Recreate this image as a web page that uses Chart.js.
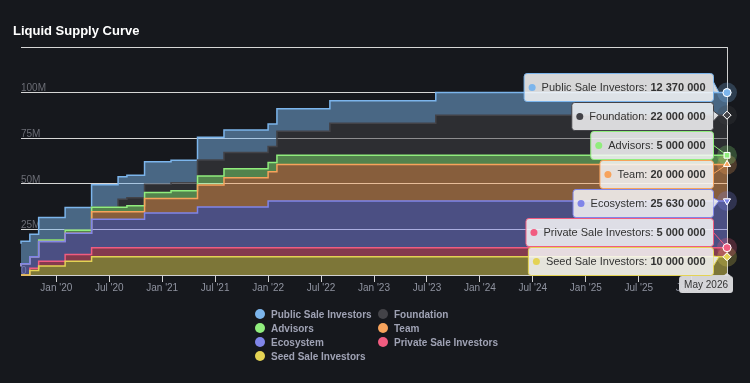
<!DOCTYPE html>
<html>
<head>
<meta charset="utf-8">
<script src="https://cdn.jsdelivr.net/npm/chart.js@4.4.1/dist/chart.umd.min.js"></script>
<style>
  body { margin: 0; background: #16181d; }
  #wrap { position: relative; width: 750px; height: 383px; background: #16181d; overflow: hidden; }
  #title { position: absolute; left: 13px; top: 23px; font: bold 13px "Liberation Sans", Arial, sans-serif; color: #ffffff; line-height: 15px; }
  #legend { position: absolute; left: 255px; top: 307px; display: grid; grid-template-columns: 123px 123px;
            font: bold 10px "Liberation Sans", Arial, sans-serif; color: #9fa2b4; }
  .item { height: 14px; display: flex; align-items: center; white-space: nowrap; }
  .dot { width: 10px; height: 10px; border-radius: 50%; margin-right: 6px; flex: none; }
</style>
</head>
<body>
<div id="wrap">
  <canvas id="supplyChart" width="750" height="383"></canvas>
  <div id="title">Liquid Supply Curve</div>
  <div id="legend"></div>
</div>

<script>
    // unlock dates (every month where some allocation changes), and the last date shown
    let releaseDates = ["2019-09", "2019-10", "2019-11", "2020-02", "2020-05", "2020-08", "2020-09", "2020-11",
                        "2021-02", "2021-05", "2021-08", "2022-01", "2022-02", "2022-08", "2023-08", "2024-08", "2026-05"];

    // cumulative unlocked tokens per allocation, in millions
    let seedSale    = [0, 0, 2.5, 5, 7.5, 10, 10, 10, 10, 10, 10, 10, 10, 10, 10, 10, 10];
    let privateSale = [0, 0, 1.25, 2.5, 3.75, 5, 5, 5, 5, 5, 5, 5, 5, 5, 5, 5, 5];
    let ecosystem   = [4.8, 6.2, 6.2, 10.8, 11.65, 15.63, 15.63, 15.63, 18.96, 18.96, 22.3, 22.3, 25.63, 25.63, 25.63, 25.63, 25.63];
    let team        = [0, 0, 0, 0, 0, 4, 4, 4, 8, 8, 12, 16, 16, 20, 20, 20, 20];
    let advisors    = [0, 0, 0, 0.83, 1.67, 2.5, 2.5, 3.33, 3.33, 4.17, 5, 5, 5, 5, 5, 5, 5];
    let foundation  = [0, 0, 0, 0, 0, 0, 4.4, 4.4, 4.4, 4.4, 8.8, 8.8, 8.8, 13.2, 17.6, 22, 22];
    let publicSale  = [12.37, 12.37, 12.37, 12.37, 12.37, 12.37, 12.37, 12.37, 12.37, 12.37, 12.37, 12.37, 12.37, 12.37, 12.37, 12.37, 12.37];

    // x axis ticks, as months counted from Jan 2020
    let tickMonths = [0, 6, 12, 18, 24, 30, 36, 42, 48, 54, 60, 66, 72];
    let tickLabels = ["Jan '20", "Jul '20", "Jan '21", "Jul '21", "Jan '22", "Jul '22", "Jan '23",
                      "Jul '23", "Jan '24", "Jul '24", "Jan '25", "Jul '25", "Jan '26"];
    let hoverLabel = "May 2026";

    // bottom of the stack first
    let seriesNames  = ["Seed Sale Investors", "Private Sale Investors", "Ecosystem", "Team", "Advisors", "Foundation", "Public Sale Investors"];
    let seriesValues = [seedSale, privateSale, ecosystem, team, advisors, foundation, publicSale];
    let seriesColors = ["#e4d354", "#f15c80", "#8085e9", "#f7a35c", "#90ed7d", "#434348", "#7cb5ec"];
    let markerStyles = ["rectRot", "circle", "triangle", "triangle", "rect", "rectRot", "circle"];
    let markerTurns  = [0, 0, 180, 0, 0, 0, 0];

    let monthIndex = releaseDates.map(d => (parseInt(d.slice(0, 4)) - 2020) * 12 + parseInt(d.slice(5, 7)) - 1);
    let lastIdx = releaseDates.length - 1;

    function withAlpha(hex, a) {
        let n = parseInt(hex.slice(1), 16);
        return "rgba(" + (n >> 16) + "," + ((n >> 8) & 255) + "," + (n & 255) + "," + a + ")";
    }

    function formatTokens(m) {
        return String(Math.round(m * 1e6)).replace(/\B(?=(\d{3})+(?!\d))/g, " ");
    }

    let datasets = seriesNames.map((name, i) => ({
        label: name,
        data: seriesValues[i].map((v, j) => ({x: monthIndex[j], y: v})),
        borderColor: seriesColors[i],
        backgroundColor: withAlpha(seriesColors[i], 0.5),
        borderWidth: 1.5,
        stepped: "after",
        fill: i === 0 ? "origin" : "-1",
        clip: false,
        pointStyle: markerStyles[i],
        rotation: markerTurns[i],
        pointRadius: ctx => ctx.dataIndex === lastIdx ? 4 : 0,
        pointBackgroundColor: seriesColors[i],
        pointBorderColor: "#ffffff",
        pointBorderWidth: 1
    }));

    // legend, in the same order as the tooltip (top of the stack first)
    let legend = document.getElementById("legend");
    let legendOrder = [6, 5, 4, 3, 2, 1, 0];
    legendOrder.forEach(i => {
        let item = document.createElement("div");
        item.className = "item";
        item.innerHTML = '<span class="dot" style="background:' + seriesColors[i] + '"></span>' + seriesNames[i];
        legend.appendChild(item);
    });

    // halos, crosshair, split tooltip and date label at the last point
    let hoverLayer = {
        id: "hoverLayer",
        afterDatasetsDraw(chart) {
            let ctx = chart.ctx;
            let area = chart.chartArea;
            let xPix = Math.round(chart.scales.x.getPixelForValue(monthIndex[lastIdx])) + 0.5;
            ctx.save();
            ctx.strokeStyle = "#cfcfcf";
            ctx.lineWidth = 1;
            ctx.beginPath();
            ctx.moveTo(xPix, area.top);
            ctx.lineTo(xPix, area.bottom);
            ctx.stroke();
            chart.data.datasets.forEach((ds, i) => {
                let pt = chart.getDatasetMeta(i).data[lastIdx];
                ctx.fillStyle = withAlpha(seriesColors[i], 0.25);
                ctx.beginPath();
                ctx.arc(pt.x, pt.y, 10, 0, Math.PI * 2);
                ctx.fill();
            });
            ctx.restore();
        },
        afterDraw(chart) {
            let ctx = chart.ctx;
            let area = chart.chartArea;
            let xPix = chart.scales.x.getPixelForValue(monthIndex[lastIdx]);
            let fontReg = '11px "Liberation Sans", Arial, sans-serif';
            let fontBold = 'bold 11px "Liberation Sans", Arial, sans-serif';
            let boxH = 28, pitch = 29;

            ctx.save();
            let items = legendOrder.map(i => {
                let pt = chart.getDatasetMeta(i).data[lastIdx];
                let key = seriesNames[i] + ": ";
                let val = formatTokens(seriesValues[i][lastIdx]);
                ctx.font = fontReg;
                let kw = ctx.measureText(key).width;
                ctx.font = fontBold;
                let vw = ctx.measureText(val).width;
                return {i: i, pt: pt, key: key, val: val, kw: kw, w: 17.5 + kw + vw + 8};
            });

            // spread the boxes around their points without overlap
            let groups = items.map((it, k) => ({first: k, n: 1}));
            let place = g => {
                let s = 0;
                for (let k = 0; k < g.n; k++) s += items[g.first + k].pt.y - (k + 0.5) * pitch;
                let start = s / g.n;
                g.start = Math.min(Math.max(start, area.top), area.bottom - g.n * pitch + 1);
            };
            groups.forEach(place);
            let merged = true;
            while (merged) {
                merged = false;
                for (let k = 0; k < groups.length - 1; k++) {
                    let a = groups[k], b = groups[k + 1];
                    if (a.start + a.n * pitch > b.start) {
                        a.n += b.n;
                        groups.splice(k + 1, 1);
                        place(a);
                        merged = true;
                        break;
                    }
                }
            }
            groups.forEach(g => {
                for (let k = 0; k < g.n; k++) items[g.first + k].top = g.start + k * pitch;
            });

            let right = xPix - 14;
            items.forEach(it => {
                let color = seriesColors[it.i];
                let left = right - it.w;
                let top = it.top;
                let cy = top + boxH / 2;
                let py = it.pt.y;
                let near = Math.abs(py - cy) <= 7;

                if (!near) {
                    ctx.strokeStyle = color;
                    ctx.lineWidth = 1;
                    ctx.beginPath();
                    ctx.moveTo(right, cy);
                    ctx.lineTo(it.pt.x, py);
                    ctx.stroke();
                }
                ctx.beginPath();
                ctx.roundRect(left + 0.5, top + 0.5, it.w, boxH, 3);
                ctx.fillStyle = "rgba(247,247,247,0.86)";
                ctx.fill();
                ctx.strokeStyle = color;
                ctx.lineWidth = 1;
                ctx.stroke();
                if (near) {
                    ctx.beginPath();
                    ctx.moveTo(right + 0.5, cy - 5);
                    ctx.lineTo(it.pt.x - 8, py);
                    ctx.lineTo(right + 0.5, cy + 5);
                    ctx.fillStyle = "rgba(247,247,247,0.86)";
                    ctx.fill();
                    ctx.stroke();
                }
                ctx.fillStyle = color;
                ctx.beginPath();
                ctx.arc(left + 8.5, cy + 0.5, 3.5, 0, Math.PI * 2);
                ctx.fill();
                ctx.fillStyle = "#333333";
                ctx.textBaseline = "middle";
                ctx.textAlign = "left";
                ctx.font = fontReg;
                ctx.fillText(it.key, left + 18, cy + 1);
                ctx.font = fontBold;
                ctx.fillText(it.val, left + 18 + it.kw, cy + 1);
            });

            // markers again, on top of the halos
            chart.data.datasets.forEach((ds, i) => {
                chart.getDatasetMeta(i).data[lastIdx].draw(ctx, area);
            });

            // date label under the crosshair
            ctx.font = '10px "Liberation Sans", Arial, sans-serif';
            let lw = ctx.measureText(hoverLabel).width + 10;
            let lRight = Math.min(xPix + lw / 2, chart.width - 17);
            let lLeft = lRight - lw;
            let lTop = area.bottom + 1;
            ctx.beginPath();
            ctx.roundRect(lLeft, lTop, lw, 17, 3);
            ctx.moveTo(xPix - 4, lTop);
            ctx.lineTo(xPix, lTop - 3);
            ctx.lineTo(xPix + 4, lTop);
            ctx.fillStyle = "rgba(222,222,226,0.95)";
            ctx.fill();
            ctx.fillStyle = "#333333";
            ctx.textAlign = "center";
            ctx.textBaseline = "middle";
            ctx.fillText(hoverLabel, lLeft + lw / 2, lTop + 9);
            ctx.restore();
        }
    };

    new Chart("supplyChart", {
        type: "line",
        data: {datasets: datasets},
        plugins: [hoverLayer],
        options: {
            responsive: false,
            animation: false,
            devicePixelRatio: 1,
            events: [],
            layout: {padding: {top: 47, right: 23, bottom: 0, left: 0}},
            plugins: {
                legend: {display: false},
                title: {display: false},
                tooltip: {enabled: false}
            },
            scales: {
                x: {
                    type: "linear",
                    min: monthIndex[0],
                    max: monthIndex[lastIdx],
                    afterBuildTicks: s => { s.ticks = tickMonths.map(v => ({value: v})); },
                    afterFit: s => { s.height = 108; },
                    grid: {drawOnChartArea: false, color: "#d0d0d0", tickLength: 7},
                    border: {color: "#d0d0d0"},
                    ticks: {
                        autoSkip: false,
                        maxRotation: 0,
                        padding: 0,
                        color: "#8f93a0",
                        font: {family: '"Liberation Sans", Arial, sans-serif', size: 10},
                        callback: (v, i) => tickLabels[i]
                    }
                },
                y: {
                    stacked: true,
                    min: 0,
                    max: 125,
                    afterFit: s => { s.width = 21; },
                    border: {display: false},
                    grid: {color: "#d6d6d6", drawTicks: false},
                    ticks: {
                        stepSize: 25,
                        mirror: true,
                        padding: 0,
                        labelOffset: -4,
                        color: "#6b6d75",
                        font: {family: '"Liberation Sans", Arial, sans-serif', size: 10},
                        callback: v => v === 125 ? "" : (v === 0 ? "0" : v + "M")
                    }
                }
            }
        }
    });
</script>
</body>
</html>
